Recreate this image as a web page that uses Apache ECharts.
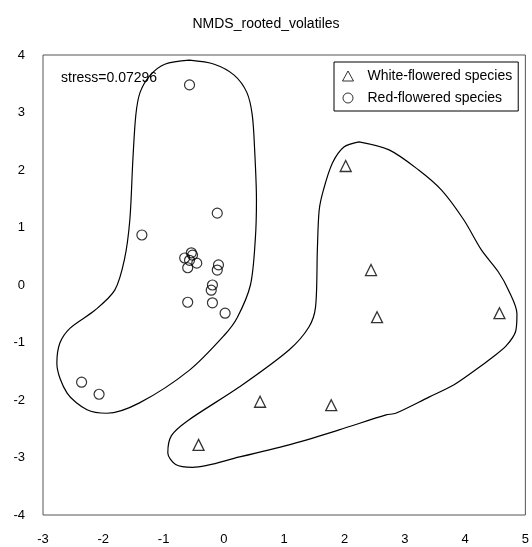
<!DOCTYPE html>
<html>
<head>
<meta charset="utf-8">
<script src="https://cdn.jsdelivr.net/npm/echarts@6/dist/echarts.min.js"></script>
<style>
  html, body { margin: 0; padding: 0; background: #fff; }
  #chart { width: 532px; height: 547px; }
</style>
</head>
<body>
<div id="chart"></div>
<script>
// NMDS scores
const whiteFlowered = [
  [2.02, 2.07], [2.44, 0.26], [2.54, -0.56], [4.57, -0.49],
  [1.78, -2.09], [0.60, -2.03], [-0.42, -2.78]
];
const redFlowered = [
  [-0.57, 3.48], [-1.36, 0.87], [-0.11, 1.25],
  [-0.54, 0.56], [-0.65, 0.47], [-0.45, 0.38], [-0.60, 0.30], [-0.57, 0.43], [-0.52, 0.52],
  [-0.09, 0.35], [-0.11, 0.26], [-0.19, 0.0], [-0.21, -0.09],
  [-0.60, -0.30], [-0.19, -0.31], [0.02, -0.49],
  [-2.36, -1.69], [-2.07, -1.90]
];

// outlines drawn around each group
const redHull = [
  [-0.57, 3.91], [-0.16, 3.84], [0.17, 3.65], [0.38, 3.35], [0.47, 2.96], [0.51, 2.35],
  [0.54, 1.48], [0.52, 0.78], [0.44, 0.0], [0.22, -0.57], [0.01, -0.87], [-0.57, -1.48],
  [-1.40, -2.05], [-1.94, -2.23], [-2.27, -2.17], [-2.60, -1.88], [-2.77, -1.36], [-2.72, -1.01],
  [-2.55, -0.75], [-2.14, -0.44], [-1.81, -0.09], [-1.65, 0.44], [-1.56, 1.13], [-1.51, 2.17],
  [-1.46, 2.96], [-1.39, 3.35], [-1.22, 3.65], [-0.98, 3.84], [-0.57, 3.91]
];
const whiteHull = [
  [2.24, 2.49], [2.74, 2.35], [3.23, 2.0], [3.61, 1.65], [3.98, 1.13], [4.27, 0.61],
  [4.55, 0.23], [4.72, -0.09], [4.86, -0.50], [4.84, -0.80], [4.68, -1.06], [4.45, -1.26],
  [4.17, -1.48], [3.81, -1.74], [3.40, -1.95], [2.85, -2.23], [2.69, -2.26], [1.91, -2.52],
  [1.08, -2.78], [0.26, -2.99], [-0.52, -3.17], [-0.80, -3.12], [-0.93, -2.92], [-0.87, -2.62],
  [-0.60, -2.36], [0.26, -1.77], [1.08, -1.13], [1.41, -0.73], [1.52, -0.38], [1.55, 0.61],
  [1.58, 1.30], [1.65, 1.65], [1.80, 2.12], [1.99, 2.40], [2.24, 2.49]
];

const xTicks = [-3, 5];   // x range
const yTicks = [-4, 4];   // y range
const stressText = 'stress=0.07296';

const font = 'Liberation Sans, Arial, sans-serif';
const chart = echarts.init(document.getElementById('chart'));

function hull(data) {
  return {
    type: 'line', data, symbol: 'none', smooth: 0.3,
    silent: true, z: 1,
    lineStyle: { color: '#000', width: 1.2 }
  };
}

chart.setOption({
  animation: false,
  title: [
    { text: 'NMDS_rooted_volatiles', left: 'center', top: 12,
      textStyle: { fontFamily: font, fontSize: 14, fontWeight: 'normal', color: '#000' } },
    { text: stressText, left: 56, top: 66,
      textStyle: { fontFamily: font, fontSize: 14, fontWeight: 'normal', color: '#000' } }
  ],
  legend: {
    data: ['White-flowered species', 'Red-flowered species'],
    orient: 'vertical', left: 334, top: 62,
    padding: [7, 6, 6, 8], itemGap: 8, itemWidth: 11, itemHeight: 10,
    borderColor: '#000', borderWidth: 1,
    itemStyle: { borderWidth: 1 },
    textStyle: { fontFamily: font, fontSize: 14, color: '#000', padding: [0, 0, 0, 9] }
  },
  grid: { left: 43, right: 5, top: 55, bottom: 32, show: true, borderColor: '#555', borderWidth: 1 },
  xAxis: {
    type: 'value', min: xTicks[0], max: xTicks[1], interval: 1,
    axisLine: { show: false }, axisTick: { show: false }, splitLine: { show: false },
    axisLabel: { margin: 18, fontFamily: font, fontSize: 13, color: '#000' }
  },
  yAxis: {
    type: 'value', min: yTicks[0], max: yTicks[1], interval: 1,
    axisLine: { show: false }, axisTick: { show: false }, splitLine: { show: false },
    axisLabel: { margin: 18, fontFamily: font, fontSize: 13, color: '#000' }
  },
  series: [
    hull(redHull),
    hull(whiteHull),
    {
      name: 'White-flowered species', type: 'scatter', data: whiteFlowered,
      symbol: 'triangle', symbolSize: 11, z: 3,
      itemStyle: { color: 'rgba(255,255,255,0)', borderColor: '#000', borderWidth: 1.3 }
    },
    {
      name: 'Red-flowered species', type: 'scatter', data: redFlowered,
      symbol: 'circle', symbolSize: 10, z: 3,
      itemStyle: { color: 'rgba(255,255,255,0)', borderColor: '#000', borderWidth: 1.2 }
    }
  ]
});
</script>
</body>
</html>
